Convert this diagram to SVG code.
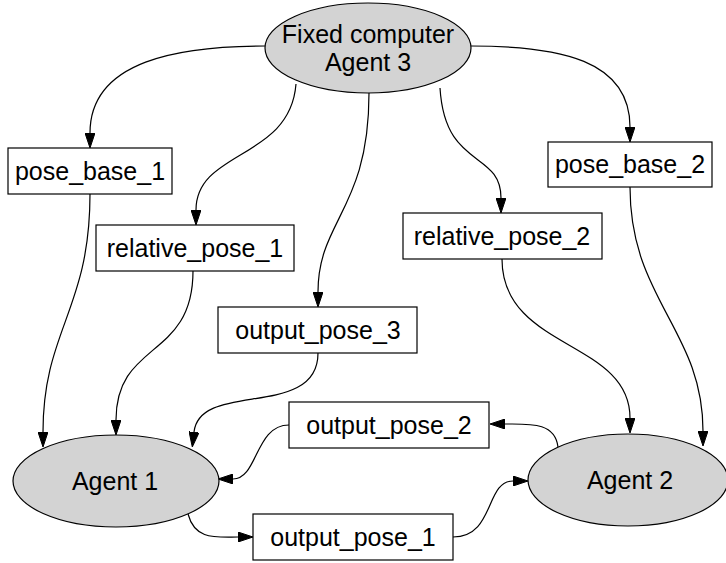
<svg xmlns="http://www.w3.org/2000/svg" width="726" height="563" viewBox="0 0 726 563">
<style>
.n ellipse{fill:#d3d3d3;stroke:#000;stroke-width:1.2}
.n rect{fill:#fff;stroke:#000;stroke-width:1.2}
text{font-family:"Liberation Sans",Arial,sans-serif;font-size:25px;fill:#000;text-anchor:middle}
.e path{fill:none;stroke:#000;stroke-width:1.2;marker-end:url(#ah)}
</style>
<defs>
<marker id="ah" viewBox="0 0 15 10" refX="0" refY="5" markerWidth="15" markerHeight="10" markerUnits="userSpaceOnUse" orient="auto">
<path d="M0,0 L15,5 L0,10 Z" fill="#000" stroke="#000" stroke-width="1"/>
</marker>
</defs>
<rect width="726" height="563" fill="#fff"/>
<g id="edges" class="e">
<path d="M265,46 C180,46 90,60 90,133"/>
<path d="M296,84 C290,160 196,150 196,210"/>
<path d="M369,93 C369,210 318,220 318,292"/>
<path d="M440,88 C445,170 501,150 501,198"/>
<path d="M471,46 C560,46 630,60 630,127"/>
<path d="M90,194 C90,310 43,330 43,432"/>
<path d="M193,271 C193,360 116,340 116,420"/>
<path d="M318,353 C318,420 200,380 194,432"/>
<path d="M289,425 C255,425 258,479 233,479"/>
<path d="M188,514 C195,540 215,537 238,537"/>
<path d="M453,537 C495,537 485,481 513,481"/>
<path d="M558,447 C555,422 530,424 505,424"/>
<path d="M502,259 C502,350 630,340 630,418"/>
<path d="M630,187 C630,300 703,330 703,431"/>
</g>
<g id="agent3" class="n"><ellipse cx="368" cy="48" rx="103" ry="45"/><text x="368" y="43">Fixed computer</text><text x="368" y="71">Agent 3</text></g>
<g id="pose_base_1" class="n"><rect x="8" y="148" width="164" height="46"/><text x="90" y="180">pose_base_1</text></g>
<g id="relative_pose_1" class="n"><rect x="96" y="225" width="198" height="46"/><text x="195" y="257">relative_pose_1</text></g>
<g id="pose_base_2" class="n"><rect x="548" y="142" width="164" height="45"/><text x="630" y="173">pose_base_2</text></g>
<g id="relative_pose_2" class="n"><rect x="403" y="213" width="199" height="46"/><text x="502" y="245">relative_pose_2</text></g>
<g id="output_pose_3" class="n"><rect x="218" y="307" width="199" height="46"/><text x="318" y="339">output_pose_3</text></g>
<g id="output_pose_2" class="n"><rect x="289" y="402" width="200" height="46"/><text x="389" y="434">output_pose_2</text></g>
<g id="output_pose_1" class="n"><rect x="253" y="514" width="200" height="46"/><text x="353" y="546">output_pose_1</text></g>
<g id="agent1" class="n"><ellipse cx="116" cy="481" rx="103" ry="46"/><text x="115" y="490">Agent 1</text></g>
<g id="agent2" class="n"><ellipse cx="628" cy="480" rx="100" ry="46"/><text x="630" y="489">Agent 2</text></g>
</svg>
